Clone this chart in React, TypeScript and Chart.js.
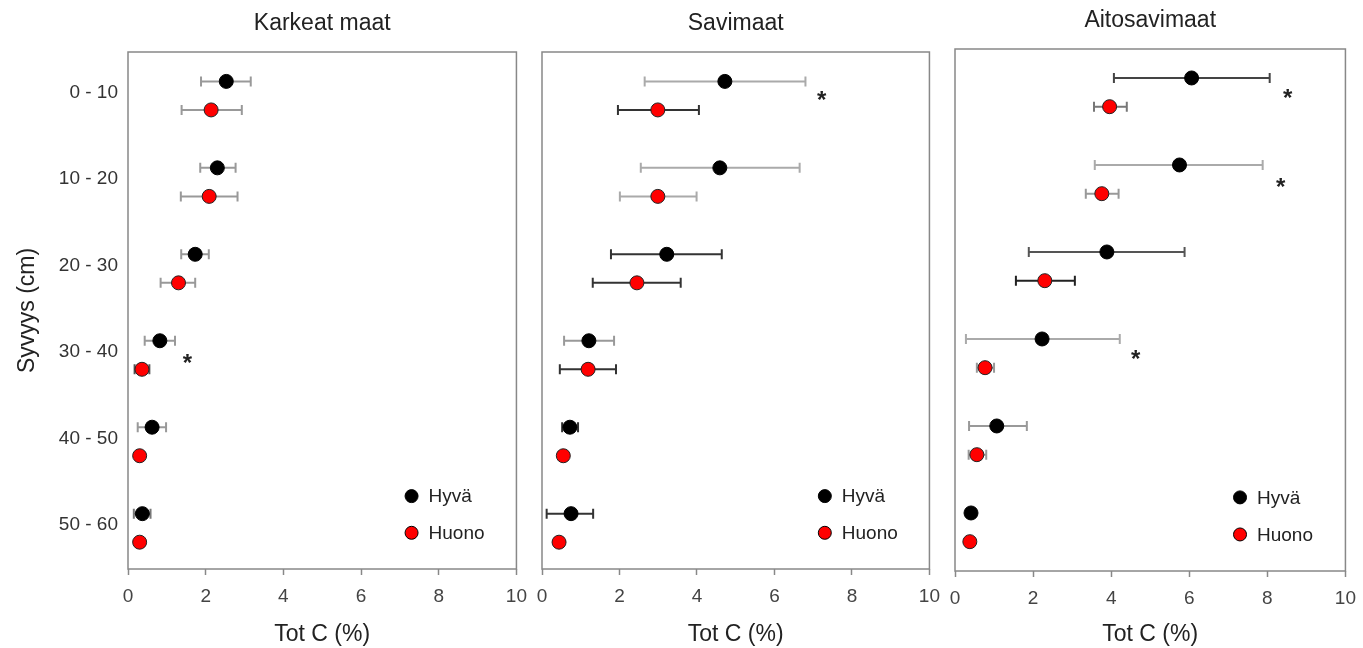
import React, { useEffect, useRef } from 'react';
import { Chart, registerables } from 'chart.js';

Chart.register(...registerables);

const FONT = '"Liberation Sans", Arial, Helvetica, sans-serif';

// ---------- data ----------
const depthLabels = ['0 - 10', '10 - 20', '20 - 30', '30 - 40', '40 - 50', '50 - 60'];
const xTickStep = 2;
const xMin = 0;
const xMax = 10;
const seriesNames = ['Hyvä', 'Huono'];
const hyvaOffset = -0.13;
const huonoOffset = 0.2;

// Karkeat maat
const karkeaHyva = [2.53, 2.3, 1.73, 0.82, 0.62, 0.37];
const karkeaHyvaLow = [1.88, 1.86, 1.37, 0.43, 0.25, 0.15];
const karkeaHyvaHigh = [3.16, 2.77, 2.08, 1.21, 0.98, 0.58];
const karkeaHuono = [2.14, 2.09, 1.3, 0.36, 0.3, 0.3];
const karkeaHuonoLow = [1.38, 1.36, 0.84, 0.17, null, null];
const karkeaHuonoHigh = [2.93, 2.82, 1.73, 0.55, null, null];
const karkeaStars = [{ x: 1.53, y: 3.08 }];

// Savimaat
const saviHyva = [4.72, 4.59, 3.22, 1.21, 0.72, 0.75];
const saviHyvaLow = [2.65, 2.55, 1.78, 0.57, 0.52, 0.12];
const saviHyvaHigh = [6.8, 6.65, 4.64, 1.86, 0.93, 1.32];
const saviHuono = [2.99, 2.99, 2.45, 1.19, 0.55, 0.44];
const saviHuonoLow = [1.96, 2.01, 1.31, 0.46, 0.43, null];
const saviHuonoHigh = [4.05, 3.99, 3.58, 1.91, 0.67, null];
const saviStars = [{ x: 7.22, y: 0.04 }];

// Aitosavimaat
const aitoHyva = [6.06, 5.75, 3.89, 2.23, 1.07, 0.41];
const aitoHyvaLow = [4.07, 3.58, 1.89, 0.28, 0.36, null];
const aitoHyvaHigh = [8.06, 7.88, 5.88, 4.22, 1.84, null];
const aitoHuono = [3.96, 3.76, 2.3, 0.77, 0.56, 0.38];
const aitoHuonoLow = [3.56, 3.35, 1.56, 0.56, 0.35, null];
const aitoHuonoHigh = [4.4, 4.19, 3.07, 1.0, 0.8, null];
const aitoStars = [
  { x: 8.52, y: 0.055 },
  { x: 8.34, y: 1.08 },
  { x: 4.63, y: 3.055 },
];

// ---------- styles ----------
const karkeaHyvaBarColors = ['#999', '#999', '#999', '#999', '#999', '#777'];
const karkeaHuonoBarColors = ['#999', '#999', '#999', '#555', '#999', '#999'];
const saviHyvaBarColors = ['#aaa', '#aaa', '#333', '#999', '#333', '#333'];
const saviHuonoBarColors = ['#333', '#aaa', '#333', '#333', '#999', '#333'];
const aitoHyvaBarColors = ['#444', '#aaa', '#555', '#aaa', '#999', '#333'];
const aitoHuonoBarColors = ['#777', '#999', '#222', '#999', '#999', '#333'];

type Star = { x: number; y: number };
type PanelDef = {
  title: string;
  hyva: number[];
  hyvaLow: (number | null)[];
  hyvaHigh: (number | null)[];
  huono: number[];
  huonoLow: (number | null)[];
  huonoHigh: (number | null)[];
  stars: Star[];
  hyvaColors: string[];
  huonoColors: string[];
  showY: boolean;
  canvasLeft: number;
  canvasWidth: number;
  yAxisWidth: number;
  padTop: number;
  padRight: number;
  xAxisHeight: number;
  titleY: number;
  yMin: number;
  yMax: number;
};

const panels: PanelDef[] = [
  {
    title: 'Karkeat maat',
    hyva: karkeaHyva, hyvaLow: karkeaHyvaLow, hyvaHigh: karkeaHyvaHigh,
    huono: karkeaHuono, huonoLow: karkeaHuonoLow, huonoHigh: karkeaHuonoHigh,
    stars: karkeaStars, hyvaColors: karkeaHyvaBarColors, huonoColors: karkeaHuonoBarColors,
    showY: true, canvasLeft: 0, canvasWidth: 537, yAxisWidth: 128, padTop: 52, padRight: 20,
    xAxisHeight: 79, titleY: 30, yMin: -0.47, yMax: 5.51,
  },
  {
    title: 'Savimaat',
    hyva: saviHyva, hyvaLow: saviHyvaLow, hyvaHigh: saviHyvaHigh,
    huono: saviHuono, huonoLow: saviHuonoLow, huonoHigh: saviHuonoHigh,
    stars: saviStars, hyvaColors: saviHyvaBarColors, huonoColors: saviHuonoBarColors,
    showY: false, canvasLeft: 510, canvasWidth: 440, yAxisWidth: 32, padTop: 52, padRight: 20,
    xAxisHeight: 79, titleY: 30, yMin: -0.47, yMax: 5.51,
  },
  {
    title: 'Aitosavimaat',
    hyva: aitoHyva, hyvaLow: aitoHyvaLow, hyvaHigh: aitoHyvaHigh,
    huono: aitoHuono, huonoLow: aitoHuonoLow, huonoHigh: aitoHuonoHigh,
    stars: aitoStars, hyvaColors: aitoHyvaBarColors, huonoColors: aitoHuonoBarColors,
    showY: false, canvasLeft: 920, canvasWidth: 446, yAxisWidth: 35, padTop: 49, padRight: 20,
    xAxisHeight: 77, titleY: 27, yMin: -0.463, yMax: 5.537,
  },
];

const HEIGHT = 648;

const decorPlugin = {
  id: 'decor',
  beforeDatasetsDraw(chart: any) {
    const { ctx, chartArea, scales } = chart;
    const x = scales.x;
    const y = scales.y;
    // frame
    ctx.save();
    ctx.strokeStyle = '#888';
    ctx.lineWidth = 1.5;
    ctx.strokeRect(chartArea.left, chartArea.top, chartArea.right - chartArea.left, chartArea.bottom - chartArea.top);
    ctx.restore();
    // error bars
    chart.data.datasets.forEach((ds: any) => {
      ds.data.forEach((pt: any, i: number) => {
        const lo = ds.errLow[i];
        const hi = ds.errHigh[i];
        if (lo == null || hi == null) return;
        const py = y.getPixelForValue(pt.y);
        const x1 = x.getPixelForValue(lo);
        const x2 = x.getPixelForValue(hi);
        ctx.save();
        ctx.strokeStyle = ds.errColors[i];
        ctx.lineWidth = 2;
        ctx.beginPath();
        ctx.moveTo(x1, py);
        ctx.lineTo(x2, py);
        ctx.moveTo(x1, py - 5);
        ctx.lineTo(x1, py + 5);
        ctx.moveTo(x2, py - 5);
        ctx.lineTo(x2, py + 5);
        ctx.stroke();
        ctx.restore();
      });
    });
  },
  afterDraw(chart: any, _args: any, opts: any) {
    const { ctx, chartArea, scales } = chart;
    const x = scales.x;
    const y = scales.y;
    // title
    ctx.save();
    ctx.fillStyle = '#222';
    ctx.font = `23px ${FONT}`;
    ctx.textAlign = 'center';
    ctx.textBaseline = 'alphabetic';
    ctx.fillText(opts.title, (chartArea.left + chartArea.right) / 2, opts.titleY);
    ctx.restore();
    // stars
    (opts.stars as Star[]).forEach((s) => {
      const px = x.getPixelForValue(s.x);
      const py = y.getPixelForValue(s.y);
      ctx.save();
      ctx.fillStyle = '#222';
      ctx.font = `bold 24px ${FONT}`;
      ctx.textAlign = 'center';
      ctx.textBaseline = 'alphabetic';
      ctx.fillText('*', px, py + 0.5 * 24);
      ctx.restore();
    });
    // legend
    const w = chartArea.right - chartArea.left;
    const h = chartArea.bottom - chartArea.top;
    const lx = chartArea.left + 0.73 * w;
    const rows = [
      { name: seriesNames[0], color: '#000000', fy: 0.859 },
      { name: seriesNames[1], color: '#ff0000', fy: 0.93 },
    ];
    rows.forEach((r) => {
      const ly = chartArea.top + r.fy * h;
      ctx.save();
      ctx.beginPath();
      ctx.arc(lx, ly, 6.5, 0, Math.PI * 2);
      ctx.fillStyle = r.color;
      ctx.fill();
      ctx.lineWidth = 1;
      ctx.strokeStyle = '#000';
      ctx.stroke();
      ctx.fillStyle = '#222';
      ctx.font = `19px ${FONT}`;
      ctx.textAlign = 'left';
      ctx.textBaseline = 'middle';
      ctx.fillText(r.name, lx + 17, ly + 1);
      ctx.restore();
    });
  },
};

function PanelChart({ p }: { p: PanelDef }) {
  const ref = useRef<HTMLCanvasElement | null>(null);
  useEffect(() => {
    if (!ref.current) return;
    const hyvaPts = p.hyva.map((v, i) => ({ x: v, y: i + hyvaOffset }));
    const huonoPts = p.huono.map((v, i) => ({ x: v, y: i + huonoOffset }));
    const chart = new Chart(ref.current, {
      type: 'scatter',
      data: {
        datasets: [
          {
            label: seriesNames[0],
            data: hyvaPts,
            pointRadius: 7,
            pointHoverRadius: 7,
            pointBackgroundColor: '#000000',
            pointBorderColor: '#000000',
            pointBorderWidth: 1,
            errLow: p.hyvaLow,
            errHigh: p.hyvaHigh,
            errColors: p.hyvaColors,
          } as any,
          {
            label: seriesNames[1],
            data: huonoPts,
            pointRadius: 7,
            pointHoverRadius: 7,
            pointBackgroundColor: '#ff0000',
            pointBorderColor: '#222',
            pointBorderWidth: 1,
            errLow: p.huonoLow,
            errHigh: p.huonoHigh,
            errColors: p.huonoColors,
          } as any,
        ],
      },
      options: {
        animation: false,
        responsive: false,
        devicePixelRatio: 1,
        layout: { padding: { top: p.padTop, right: p.padRight, left: 0, bottom: 0 } },
        plugins: {
          legend: { display: false },
          tooltip: { enabled: false },
          decor: { title: p.title, titleY: p.titleY, stars: p.stars },
        } as any,
        scales: {
          x: {
            type: 'linear',
            min: xMin,
            max: xMax,
            ticks: {
              stepSize: xTickStep,
              font: { size: 19, family: FONT },
              color: '#444',
              padding: 10,
            },
            grid: {
              drawOnChartArea: false,
              drawTicks: true,
              tickLength: 6,
              tickColor: '#888',
              tickWidth: 1.5,
            },
            border: { display: false },
            title: {
              display: true,
              text: 'Tot C (%)',
              font: { size: 23, family: FONT },
              color: '#222',
              padding: { top: 0, bottom: 0 },
            },
            afterFit: (s: any) => {
              s.height = p.xAxisHeight;
            },
          },
          y: {
            type: 'linear',
            reverse: true,
            min: p.yMin,
            max: p.yMax,
            afterBuildTicks: (s: any) => {
              s.ticks = depthLabels.map((_, i) => ({ value: i }));
            },
            ticks: {
              display: p.showY,
              callback: (_v: any, i: number) => depthLabels[i],
              font: { size: 19, family: FONT },
              color: '#333',
              padding: 10,
            },
            grid: { display: false, drawTicks: false, tickLength: 0 },
            border: { display: false },
            title: {
              display: p.showY,
              text: 'Syvyys (cm)',
              font: { size: 23, family: FONT },
              color: '#222',
              padding: { top: 14, bottom: 0 },
            },
            afterFit: (s: any) => {
              s.width = p.yAxisWidth;
            },
          },
        },
      } as any,
      plugins: [decorPlugin],
    });
    return () => chart.destroy();
  }, [p]);
  return (
    <canvas
      ref={ref}
      width={p.canvasWidth}
      height={HEIGHT}
      style={{ position: 'absolute', left: p.canvasLeft, top: 0, width: p.canvasWidth, height: HEIGHT }}
    />
  );
}

export default function App() {
  return (
    <div
      style={{
        position: 'fixed',
        left: 0,
        top: 0,
        width: 1363,
        height: HEIGHT,
        overflow: 'hidden',
        background: '#ffffff',
      }}
    >
      {panels.map((p) => (
        <PanelChart key={p.title} p={p} />
      ))}
    </div>
  );
}
